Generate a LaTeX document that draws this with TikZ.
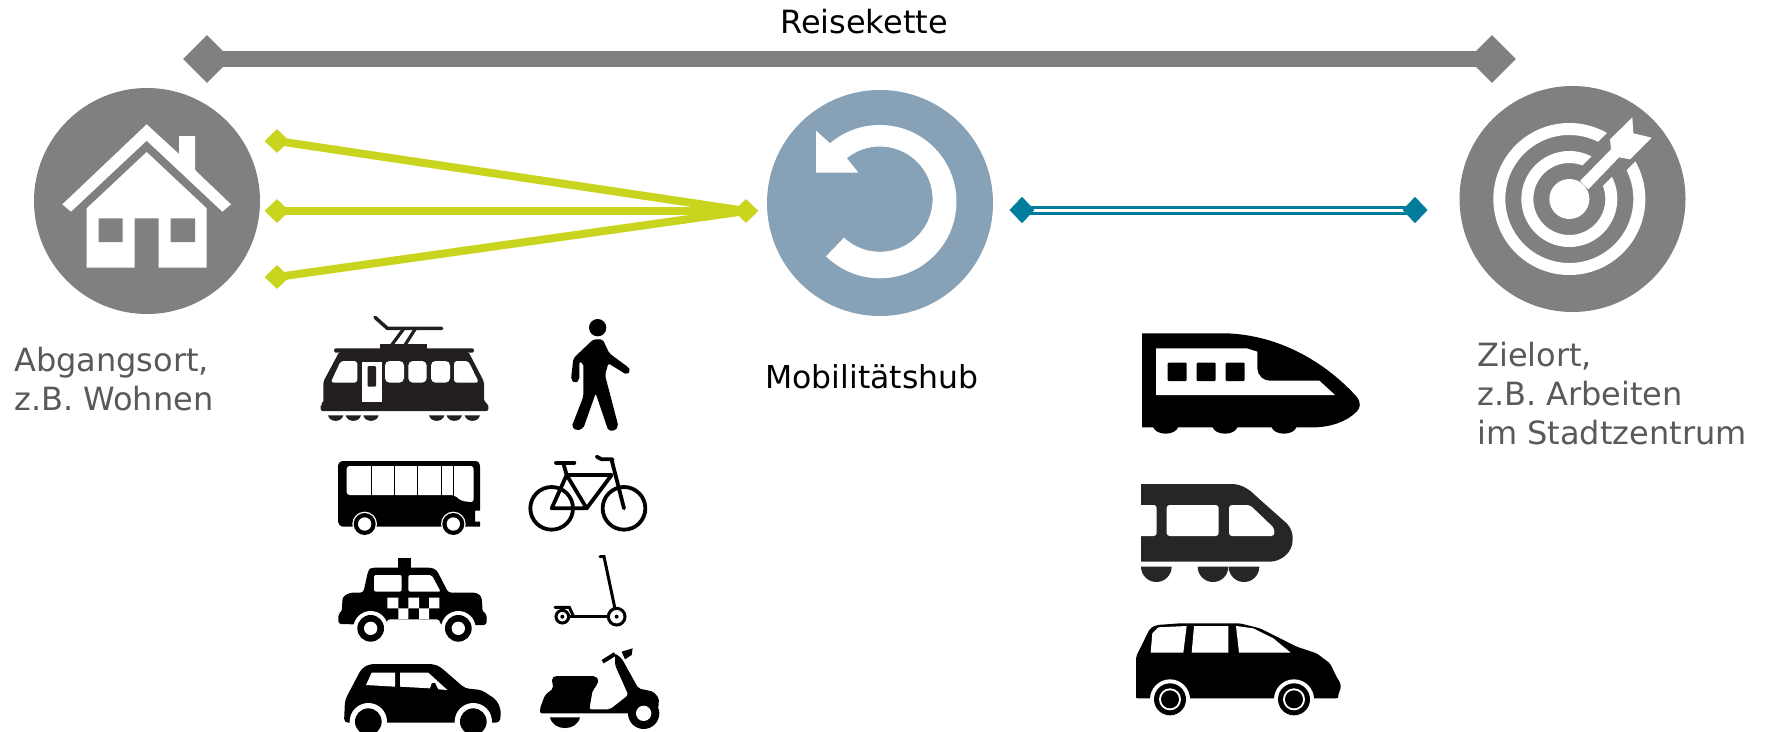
\documentclass[tikz,border=0pt]{standalone}
\usepackage{fontspec}
\setmainfont{DejaVu Sans}
\usetikzlibrary{shapes.geometric}
\definecolor{grayc}{HTML}{808080}
\definecolor{hubc}{HTML}{87A2B6}
\definecolor{lime}{HTML}{C8D41E}
\definecolor{tealc}{HTML}{007C9C}
\definecolor{textg}{HTML}{595959}
\definecolor{tram}{HTML}{231F20}
\definecolor{train}{HTML}{262626}
\tikzset{
  bigdisc/.style={circle,inner sep=0pt,minimum size=226pt},
  gdiam/.style={diamond,fill=grayc,inner sep=0pt,minimum width=48pt,minimum height=48pt},
  ldiam/.style={diamond,fill=lime,inner sep=0pt,minimum width=25pt,minimum height=24pt},
  tdiam/.style={diamond,fill=tealc,inner sep=0pt,minimum width=25pt,minimum height=26pt},
  limeline/.style={draw=lime,line width=8pt},
  lab/.style={inner sep=0pt,font=\fontsize{32}{39}\selectfont},
  zoomA/.style={shift={(300,300)},scale=0.33333},
  zoomB/.style={shift={(1100,310)},scale=0.33333},
  bar/.style={draw=black,line width=3.8pt,line cap=round,line join=round},
}
\begin{document}
\begin{tikzpicture}[x=1pt,y=1pt,yscale=-1]
\useasboundingbox (0,0) rectangle (1766,731);
% main discs
\node[bigdisc,fill=grayc] (home) at (147,201) {};
\node[bigdisc,fill=hubc] (hub) at (880,203) {};
\node[bigdisc,fill=grayc] (goal) at (1572.5,199) {};
% Reisekette
\node[gdiam] (ra) at (207,59) {};
\node[gdiam] (rb) at (1492,59) {};
\draw[grayc,line width=16pt] (ra.center) -- (rb.center);
% feeder lines
\node[ldiam] (g1) at (277,141) {};
\node[ldiam] (g2) at (277,211) {};
\node[ldiam] (g3) at (277,277) {};
\node[ldiam] (g4) at (746,211) {};
\draw[limeline] (g1.center) -- (g4.center);
\draw[limeline] (g2.center) -- (g4.center);
\draw[limeline] (g3.center) -- (g4.center);
% main line
\node[tdiam] (t1) at (1022,210) {};
\node[tdiam] (t2) at (1415,210) {};
\draw[tealc,line width=3pt,double=white,double distance=3pt] (t1.center) -- (t2.center);
\node[tdiam] at (t1.center) {};
\node[tdiam] at (t2.center) {};
% labels
\node[lab,anchor=base] (lr) at (864,33) {Reisekette};
\node[lab,anchor=base,font=\fontsize{31.5}{39}\selectfont] (lm) at (872,388) {Mobilitätshub};
\node[lab,anchor=north west,text=textg,align=left] (la) at (14,346.7) {Abgangsort,\\z.B. Wohnen};
\node[lab,anchor=north west,text=textg,align=left] (lz) at (1477,341.7) {Zielort,\\z.B. Arbeiten\\im Stadtzentrum};
% house
\begin{scope}[shift={(40,110)},scale=0.33333]
\fill[white] (320,43) -- (417,132) -- (417,78) -- (465,78) -- (465,180) -- (573,283) -- (547,305) -- (320,92) -- (93,305) -- (67,283) -- cycle;
\fill[white] (320,126) -- (500,295) -- (500,473) -- (356,473) -- (356,325) -- (284,325) -- (284,473) -- (140,473) -- (140,295) -- cycle;
\fill[grayc] (176,325) rectangle (248,396) (392,325) rectangle (465,396);
\end{scope}
% hub arrow
\begin{scope}[shift={(780,100)},scale=0.33333]
\fill[white] (150,130) arc[start angle=229.5,end angle=494.5,radius=230] -- (192,413) arc[start angle=493,end angle=231,radius=158] -- (235,218) -- (108,218) -- (108,92) -- cycle;
\end{scope}
% target
\begin{scope}[shift={(1470,100)},scale=0.33333]
\fill[white,even odd rule] (298,297) circle[radius=228] (298,297) circle[radius=192];
\fill[white,even odd rule] (298,297) circle[radius=144] (298,297) circle[radius=108];
\fill[grayc] (310,224) -- (371,285) -- (445,211) -- (457,223) -- (531,148) -- (446,64) -- (372,138) -- (384,150) -- cycle;
\fill[white] (298,297) circle[radius=60];
\fill[white] (330,243) -- (423,148) -- (420,118) -- (487,52) -- (490,100) -- (545,113) -- (480,178) -- (447,172) -- (355,268) -- cycle;
\end{scope}
% tram
\begin{scope}[zoomA]
\fill[tram,rounded corners=1.5pt] (102,145) rectangle (522,158);
\fill[tram] (240,132) rectangle (382,147);
\fill[tram,rounded corners=2pt] (118,155) -- (70,245) -- (70,310) -- (62,312) -- (62,333) -- (565,333) -- (565,312) -- (552,305) -- (552,245) -- (505,155) -- cycle;
\draw[tram,line width=3.5pt,line cap=round,line join=round] (225,52) -- (262,85) -- (425,85);
\draw[tram,line width=3.2pt] (275,135) -- (310,88) (315,135) -- (345,88);
\fill[white,rounded corners=3pt] (122,183) -- (172,183) -- (172,248) -- (92,248) -- cycle;
\fill[white,rounded corners=4.5pt] (255,183) rectangle (312,248) (325,183) rectangle (380,248) (393,183) rectangle (450,248);
\fill[white,rounded corners=3pt] (462,183) -- (505,183) -- (537,248) -- (462,248) -- cycle;
\fill[white] (186,185) rectangle (245,307);
\fill[tram,rounded corners=1pt] (203,198) rectangle (228,260);
\foreach \c in {107,160,213,410,463,517}
  \fill[tram] (\c-23,346) .. controls (\c-18,368) and (\c+18,368) .. (\c+23,346) -- cycle;
\end{scope}
% pedestrian
\begin{scope}[zoomA]
\fill[black] (893,83) circle[radius=26];
\fill[black,rounded corners=2pt] (880,118) -- (908,118) -- (928,160) -- (985,202) -- (992,212) -- (980,224) -- (925,190) -- (915,225) -- (955,378) -- (945,392) -- (925,392) -- (887,280) -- (850,385) -- (830,392) -- (815,380) -- (850,290) -- (850,190) -- (838,185) -- (838,240) -- (825,250) -- (813,238) -- (820,175) -- cycle;
\end{scope}
% bus
\begin{scope}[zoomA]
\fill[black] (130,680) .. controls (120,680) and (114,672) .. (114,660) -- (114,500) .. controls (114,490) and (120,483) .. (130,483) -- (525,483) .. controls (535,483) and (540,490) .. (540,500) -- (540,632) -- (525,632) -- (525,665) -- (540,665) -- (540,680) -- cycle;
\fill[white,rounded corners=3pt] (140,498) -- (521,498) -- (521,607) -- (485,603) -- (462,585) -- (140,585) -- cycle;
\foreach \c in {215,283,352,425,460} \fill[black] (\c-0.8,498) rectangle (\c+0.8,590);
\foreach \c in {194,460} {
  \fill[white] (\c,672) circle[radius=37];
  \fill[black] (\c,672) circle[radius=33];
  \fill[white] (\c,672) circle[radius=20];
}
\end{scope}
% bicycle
\begin{scope}[zoomA]
\draw[bar] (755,625) circle[radius=64] (972,625) circle[radius=64];
\draw[bar] (755,625) -- (800,525) -- (860,625) -- cycle;
\draw[bar] (800,525) -- (935,525) -- (860,625);
\draw[bar] (790,490) -- (800,525);
\draw[bar] (935,480) -- (972,625);
\draw[bar] (768,488) -- (823,488);
\draw[bar] (890,470) -- (905,478) -- (938,478);
\end{scope}
% kick scooter
\begin{scope}[zoomA]
\draw[black,line width=3pt,line cap=round] (900,770) -- (912,770) -- (950,950);
\draw[black,line width=3pt] (787,950) -- (950,950);
\draw[black,line width=3pt,line cap=round] (765,922) -- (808,922) -- (820,948);
\fill[white] (787,950) circle[radius=22] (950,950) circle[radius=28];
\draw[black,line width=3pt] (787,950) circle[radius=19] (950,950) circle[radius=25];
\fill[black] (787,950) circle[radius=6] (950,950) circle[radius=6];
\end{scope}
% taxi
\begin{scope}[zoomA]
\fill[black] (295,775) rectangle (332,805);
\fill[black,rounded corners=3pt] (115,972) -- (115,940) -- (125,938) -- (128,890) -- (150,878) -- (190,878) -- (205,810) -- (215,803) -- (395,803) -- (410,810) -- (445,878) -- (530,878) -- (545,890) -- (548,938) -- (560,940) -- (560,975) -- (420,975) -- (420,958) -- (260,958) -- (260,975) -- cycle;
\fill[white,rounded corners=2pt] (222,825) rectangle (305,875);
\fill[white,rounded corners=2pt] (325,825) -- (395,825) -- (422,875) -- (325,875) -- cycle;
\fill[white] (262,893) rectangle (295,925) (325,893) rectangle (357,925) (387,893) rectangle (418,925) (295,925) rectangle (325,957) (357,925) rectangle (387,957);
\foreach \c in {212,475} {
  \fill[white] (\c,985) circle[radius=52];
  \fill[black] (\c,985) circle[radius=40];
  \fill[white] (\c,985) circle[radius=20];
}
\end{scope}
% small car
\begin{scope}[zoomA]
\fill[black,rounded corners=4pt] (132,1268) -- (135,1200) -- (185,1105) -- (210,1092) -- (400,1092) -- (420,1100) -- (495,1165) -- (545,1170) -- (590,1200) -- (603,1230) -- (600,1268) -- cycle;
\fill[white] (198,1155) -- (215,1118) -- (285,1118) -- (285,1160) -- cycle;
\fill[white] (300,1118) -- (385,1118) -- (442,1170) -- (415,1168) -- (405,1148) -- (395,1150) -- (390,1165) -- (300,1160) -- cycle;
\foreach \c in {205,520} {
  \fill[white] (\c,1265) circle[radius=56];
  \fill[black] (\c,1265) circle[radius=40];
}
\end{scope}
% moped
\begin{scope}[zoomA]
\fill[black,rounded corners=2pt] (720,1240) -- (720,1225) -- (735,1185) -- (760,1165) -- (755,1135) -- (765,1128) -- (885,1128) -- (897,1140) -- (885,1165) -- (878,1170) -- (868,1228) -- (930,1228) -- (985,1185) -- (945,1095) -- (945,1060) -- (965,1075) -- (1015,1165) -- (1060,1175) -- (1077,1195) -- (1075,1225) -- (1030,1240) -- (940,1240) -- cycle;
\draw[black,line width=4pt] (908,1085) -- (945,1062);
\fill[black] (965,1055) -- (998,1045) -- (995,1065) -- (975,1078) -- cycle;
\fill[black] (1031,1240) circle[radius=47];
\fill[white] (1031,1240) circle[radius=23];
\fill[black] (750,1252) .. controls (760,1295) and (830,1295) .. (840,1252) -- cycle;
\end{scope}
% high speed train
\begin{scope}[zoomB]
\fill[black] (126,70) -- (380,70) .. controls (520,75) and (660,140) .. (770,260) .. controls (785,280) and (780,295) .. (770,305) .. controls (740,335) and (690,352) .. (640,352) -- (126,352) -- cycle;
\foreach \c in {197,375,552}
  \fill[black] (\c-38,350) .. controls (\c-30,378) and (\c+30,378) .. (\c+38,350) -- cycle;
\fill[white] (168,115) -- (440,115) -- (472,125) -- (472,175) .. controls (474,200) and (490,212) .. (510,212) -- (658,212) -- (705,255) -- (168,255) -- cycle;
\fill[black,rounded corners=1pt] (203,158) rectangle (260,213) (290,158) rectangle (347,213) (377,158) rectangle (434,213);
\end{scope}
% regional train
\begin{scope}[zoomB]
\fill[train] (123,522) -- (395,522) .. controls (430,522) and (455,545) .. (470,560) -- (560,640) .. controls (578,660) and (578,675) .. (578,690) .. controls (578,730) and (540,755) .. (510,755) -- (123,755) -- cycle;
\fill[white,rounded corners=3pt] (123,585) [sharp corners] -- (155,585) [rounded corners=3pt] -- (170,585) -- (170,678) [sharp corners] -- (123,678) -- cycle;
\fill[white,rounded corners=3pt] (200,585) rectangle (356,678);
\fill[white,rounded corners=3pt] (387,585) -- (450,585) -- (523,655) -- (523,678) -- (387,678) -- cycle;
\begin{scope}
\clip (123,760) rectangle (600,830);
\foreach \c in {169,339,432}
  \fill[train] (\c-46,770) arc[start angle=180,end angle=0,radius=46] -- cycle;
\end{scope}
\end{scope}
% van
\begin{scope}[zoomB]
\fill[black,rounded corners=2pt] (108,1160) -- (108,1040) -- (150,955) -- (170,945) -- (240,940) -- (420,940) -- (480,955) -- (590,1010) -- (650,1030) -- (690,1060) -- (712,1105) -- (722,1120) -- (722,1140) -- (715,1148) -- (715,1165) -- (108,1165) -- cycle;
\fill[white] (152,1028) -- (157,970) -- (175,952) -- (260,948) -- (250,1028) -- cycle;
\fill[white] (282,948) -- (385,948) -- (385,1028) -- (275,1028) -- cycle;
\fill[white] (408,948) -- (460,955) -- (520,985) -- (572,1028) -- (417,1028) -- cycle;
\foreach \c in {210,582} {
  \fill[white] (\c,1168) circle[radius=60];
  \fill[black] (\c,1168) circle[radius=48];
  \fill[white] (\c,1168) circle[radius=33];
  \fill[black] (\c,1168) circle[radius=27];
}
\end{scope}
\end{tikzpicture}
\end{document}
